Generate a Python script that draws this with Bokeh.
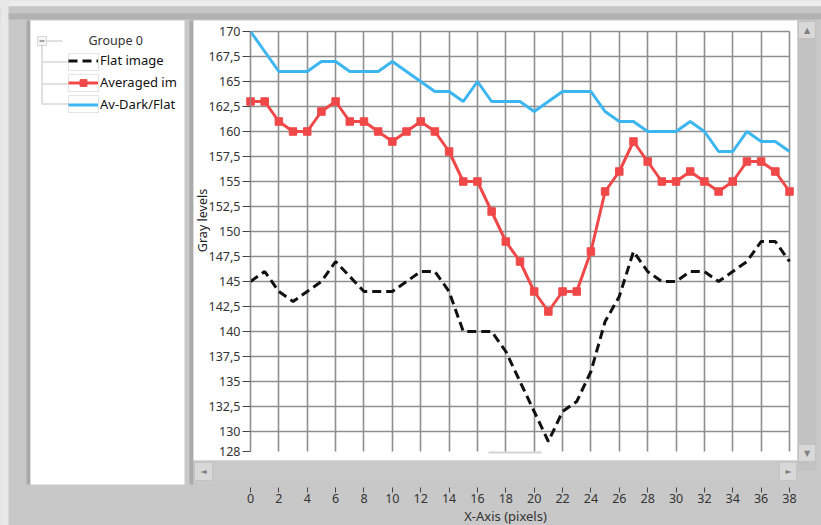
from bokeh.plotting import figure
from bokeh.models import BoxAnnotation, Label, Legend, LegendItem, FixedTicker
from bokeh.embed import file_html
from bokeh.resources import INLINE

# ---- data -------------------------------------------------------------
x_pixels = list(range(39))
flat_image = [145, 146, 144, 143, 144, 145, 147, 145.5, 144, 144, 144, 145, 146, 146,
              144, 140, 140, 140, 138, 135, 132, 129, 132, 133, 136, 141, 143.5, 148,
              146, 145, 145, 146, 146, 145, 146, 147, 149, 149, 147]
averaged_im = [163, 163, 161, 160, 160, 162, 163, 161, 161, 160, 159, 160, 161, 160,
               158, 155, 155, 152, 149, 147, 144, 142, 144, 144, 148, 154, 156, 159,
               157, 155, 155, 156, 155, 154, 155, 157, 157, 156, 154]
av_dark_flat = [170, 168, 166, 166, 166, 167, 167, 166, 166, 166, 167, 166, 165, 164,
                164, 163, 165, 163, 163, 163, 162, 163, 164, 164, 164, 162, 161, 161,
                160, 160, 160, 161, 160, 158, 158, 160, 159, 159, 158]

series_names = ["Flat image", "Averaged im", "Av-Dark/Flat"]
x_ticks = list(range(0, 39, 2))
y_ticks = [128, 130, 132.5, 135, 137.5, 140, 142.5, 145, 147.5, 150, 152.5, 155,
           157.5, 160, 162.5, 165, 167.5, 170]
y_tick_labels = ["128", "130", "132,5", "135", "137,5", "140", "142,5", "145", "147,5",
                 "150", "152,5", "155", "157,5", "160", "162,5", "165", "167,5", "170"]
x_title = "X-Axis (pixels)"
y_title = "Gray levels"
group_title = "Groupe 0"

# ---- page geometry (pixels, top-down) ---------------------------------
W, H = 821, 525
X0_PX, X1_PX = 250, 789        # where x = 0 and x = 38 sit
YT_PX, YB_PX = 31, 451         # where y = 170 and y = 128 sit
XAXIS_PX = 487                 # top of the x tick marks

sx = (X1_PX - X0_PX) / (x_ticks[-1] - x_ticks[0])
sy = (YB_PX - YT_PX) / (y_ticks[-1] - y_ticks[0])
x_start = x_ticks[0] - X0_PX / sx
x_end = x_ticks[0] + (W - X0_PX) / sx
y_end = y_ticks[-1] + YT_PX / sy
y_start = y_ticks[-1] - (H - YT_PX) / sy

FONT = "Noto Sans"
BG = "#c8c8c8"

p = figure(width=W, height=H, x_range=(x_start, x_end), y_range=(y_start, y_end),
           output_backend="svg", toolbar_location=None, min_border=0,
           min_border_left=0, min_border_right=0, min_border_top=0, min_border_bottom=0)
p.title.visible = False
p.outline_line_color = None
p.background_fill_color = BG
p.border_fill_color = BG


def panel(left, top, right, bottom, color, line=None, level="image"):
    """Flat window panel given in top-down pixel coordinates."""
    p.add_layout(BoxAnnotation(
        left=left, right=right, top=H - top, bottom=H - bottom,
        left_units="screen", right_units="screen", top_units="screen", bottom_units="screen",
        fill_color=color, fill_alpha=1.0, line_color=line, line_width=1, level=level))


def text(x, y, s, size="12px", color="#333333", align="left", angle=0.0, font=FONT):
    p.add_layout(Label(x=x, y=H - y, x_units="screen", y_units="screen", text=s,
                       text_font=font, text_font_size=size, text_color=color,
                       text_align=align, text_baseline="middle", angle=angle))


# window chrome
panel(0, 0, W, 6, "#ececec")
panel(0, 6, W, 13, "#c6c6c6")
panel(0, 13, W, 19, "#b2b2b2")
panel(0, 0, 8, H, "#e8e8e8")
panel(26, 20, 30, 484, "#a9a9a9")
panel(30, 20, 184, 484, "#ffffff")          # legend pane
panel(189, 20, 193, 484, "#a9a9a9")
panel(193, 20, 797, 460, "#ffffff")         # plot pane
panel(193, 460, 797, 483, "#c9c9c9")        # horizontal scrollbar
panel(194, 462, 212, 480, "#d8d8d8", line="#a6a6a6")
panel(779, 462, 796, 480, "#d8d8d8", line="#a6a6a6")
panel(797, 20, 816, 470, "#c2c2c2")         # vertical scrollbar
panel(798, 21, 815, 38, "#d8d8d8", line="#a6a6a6")
panel(798, 444, 815, 461, "#d8d8d8", line="#a6a6a6")
panel(488, 451, 541, 453, "#d4d4d4")
text(203, 471, "◄", size="8px", color="#808080", align="center", font="DejaVu Sans")
text(788, 471, "►", size="8px", color="#808080", align="center", font="DejaVu Sans")
text(806.5, 29.5, "▲", size="8px", color="#808080", align="center", font="DejaVu Sans")
text(806.5, 452.5, "▼", size="8px", color="#808080", align="center", font="DejaVu Sans")

# legend tree
panel(37, 36, 46, 45, "#f4f4f4", line="#8c8c8c")
panel(39, 40, 44, 41, "#555555")
panel(46, 40, 62, 41, "#c4c4c4")
panel(41, 45, 42, 104, "#c4c4c4")
for yy in (61, 83, 103):
    panel(42, yy, 68, yy + 1, "#c4c4c4")
for top in (53, 74, 95):
    panel(68, top, 98, top + 17, "#ffffff", line="#a4a4a4")
text(88, 40, group_title, size="12.5px", color="#333333")

# ---- series -----------------------------------------------------------
r_flat = p.line(x_pixels, flat_image, line_color="#111111", line_width=3, line_dash="9 5")
r_avg = p.line(x_pixels, averaged_im, line_color="#f04848", line_width=3)
r_avg_pts = p.scatter(x_pixels, averaged_im, marker="square", size=7.5,
                      fill_color="#f04848", line_color="#f04848")
r_dark = p.line(x_pixels, av_dark_flat, line_color="#3cb6f0", line_width=3)

# ---- axes & grid ------------------------------------------------------
xaxis = p.xaxis[0]
xaxis.fixed_location = y_ticks[-1] - (XAXIS_PX - YT_PX) / sy
xaxis.ticker = FixedTicker(ticks=x_ticks)
xaxis.bounds = (x_ticks[0], x_ticks[-1])
xaxis.axis_line_color = None
xaxis.major_tick_in = 0
xaxis.major_tick_out = 5
xaxis.major_tick_line_color = "#444444"
xaxis.minor_tick_line_color = None
xaxis.major_label_standoff = 1
xaxis.major_label_text_font = FONT
xaxis.major_label_text_font_size = "12.5px"
xaxis.major_label_text_color = "#333333"

yaxis = p.yaxis[0]
yaxis.fixed_location = x_ticks[0]
yaxis.ticker = FixedTicker(ticks=y_ticks)
yaxis.major_label_overrides = {t: s for t, s in zip(y_ticks, y_tick_labels)}
yaxis.bounds = (y_ticks[0], y_ticks[-1])
yaxis.axis_line_color = "#8f8f8f"
yaxis.major_tick_in = 0
yaxis.major_tick_out = 8
yaxis.major_tick_line_color = "#444444"
yaxis.minor_tick_line_color = None
yaxis.major_label_standoff = 2
yaxis.major_label_text_font = FONT
yaxis.major_label_text_font_size = "12.5px"
yaxis.major_label_text_color = "#333333"

# grid lines stay inside the plotting rectangle
p.xgrid.ticker = FixedTicker(ticks=x_ticks)
p.xgrid.bounds = (x_ticks[0], x_ticks[-1])
p.xgrid.cross_bounds = (y_ticks[0], y_ticks[-1])
p.ygrid.ticker = FixedTicker(ticks=y_ticks[1:])
p.ygrid.bounds = (y_ticks[1], y_ticks[-1])
p.ygrid.cross_bounds = (x_ticks[0], x_ticks[-1])
for g in (p.xgrid, p.ygrid):
    g.grid_line_color = "#8f8f8f"
    g.grid_line_width = 1.6

text(505, 515, x_title, size="13px", color="#333333", align="center")
text(202, 220, y_title, size="12.5px", color="#222222", align="center", angle=1.5707963)

# ---- legend -----------------------------------------------------------
legend = Legend(items=[
    LegendItem(label=series_names[0], renderers=[r_flat]),
    LegendItem(label=series_names[1], renderers=[r_avg, r_avg_pts]),
    LegendItem(label=series_names[2], renderers=[r_dark]),
], location=(68, H - 113))
legend.background_fill_alpha = 0
legend.border_line_color = None
legend.padding = 0
legend.margin = 0
legend.spacing = 4
legend.glyph_width = 30
legend.glyph_height = 17
legend.label_height = 17
legend.label_standoff = 2
legend.label_text_font = FONT
legend.label_text_font_size = "13px"
legend.label_text_color = "#111111"
p.add_layout(legend)

open("out.html", "w").write(file_html(p, INLINE))
